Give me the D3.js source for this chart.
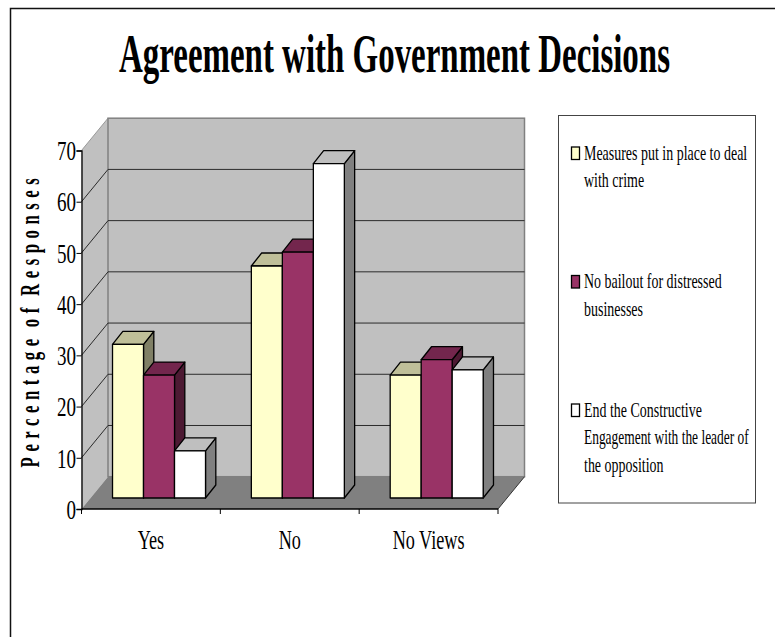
<!DOCTYPE html>
<html>
<head>
<meta charset="utf-8">
<script src="https://cdn.jsdelivr.net/npm/d3@7"></script>
<style>
html,body{margin:0;padding:0;background:#fff}
svg{display:block}
text{font-family:"Liberation Serif","Times New Roman",serif;fill:#000}
</style>
</head>
<body>
<script>
const categories = ["Yes", "No", "No Views"];
const crimeMeasures = [30, 45.3, 24];
const noBailout = [24, 48, 27];
const endEngagement = [9.2, 65.3, 25];
const tickValues = [0, 10, 20, 30, 40, 50, 60, 70];
const legendLines = [
  ["Measures put in place to deal", "with crime"],
  ["No bailout for distressed", "businesses"],
  ["End the Constructive", "Engagement with the leader of", "the opposition"]
];

const faces = [
  {front: "#ffffcc", top: "#bfbf99", side: "#808066"},
  {front: "#993366", top: "#73264d", side: "#4d1a33"},
  {front: "#ffffff", top: "#bfbfbf", side: "#808080"}
];
const seriesValues = [crimeMeasures, noBailout, endEngagement];

const svg = d3.select("body").append("svg").attr("width", 775).attr("height", 637);

// plot frame
const x = d3.scaleBand().domain(categories).range([81.5, 498]);
const y = d3.scaleLinear().domain([0, 70]).range([509, 150.5]);
const wall = {dx: 26.5, dy: -32.3};
const barDepth = {dx: 10.3, dy: -13};
const barLift = 11;
const barW = 31;

// outer border: only the top and left edges fall inside the page
svg.append("path").attr("d", "M775,8.5H10.5V637")
  .attr("fill", "none").attr("stroke", "#111").attr("stroke-width", 1.5);

// title
svg.append("text").attr("transform", "translate(394.5,72) scale(0.61,1)")
  .attr("text-anchor", "middle").attr("font-size", 54).attr("font-weight", "bold")
  .text("Agreement with Government Decisions");

// side wall, back wall, floor
const path = pts => "M" + pts.map(p => p.join(",")).join("L") + "Z";
const [x0, x1] = x.range();
const y0 = y(0), yTop = y(70);
svg.append("path").attr("d", path([[x0, y0], [x0 + wall.dx, y0 + wall.dy], [x0 + wall.dx, yTop + wall.dy], [x0, yTop]]))
  .attr("fill", "#c0c0c0");
svg.append("line").attr("x1", x0).attr("y1", yTop).attr("x2", x0 + wall.dx).attr("y2", yTop + wall.dy)
  .attr("stroke", "#999").attr("stroke-width", 1);
svg.append("rect").attr("x", x0 + wall.dx).attr("y", yTop + wall.dy).attr("width", x1 - x0).attr("height", y0 - yTop)
  .attr("fill", "#c0c0c0").attr("stroke", "#808080").attr("stroke-width", 1.5);
svg.append("path").attr("d", path([[x0, y0], [x0 + wall.dx, y0 + wall.dy], [x1 + wall.dx, y0 + wall.dy], [x1, y0]]))
  .attr("fill", "#808080");

// gridlines run along the side wall and across the back wall
tickValues.filter(t => t > 0 && t < 70).forEach(t => {
  svg.append("path")
    .attr("d", `M${x0},${y(t)}L${x0 + wall.dx},${y(t) + wall.dy}L${x1 + wall.dx},${y(t) + wall.dy}`)
    .attr("fill", "none").attr("stroke", "#2b2b2b").attr("stroke-width", 1);
});

// value axis
const yG = svg.append("g").attr("transform", `translate(${x0},0)`)
  .call(d3.axisLeft(y).tickValues(tickValues).tickSize(5));
yG.select(".domain").attr("stroke", "#000").attr("stroke-width", 1.3);
yG.selectAll("text").attr("font-size", 28).attr("dy", "0.33em").attr("x", 0)
  .attr("transform", "translate(-5.5,0) scale(0.68,1)");

// category axis
const xG = svg.append("g").attr("transform", `translate(0,${y0})`)
  .call(d3.axisBottom(x).tickSize(0).tickPadding(0));
xG.select(".domain").remove();
xG.selectAll(".tick text").attr("font-size", 28).attr("text-anchor", "middle")
  .attr("x", 0).attr("y", 40).attr("dy", 0).attr("transform", "scale(0.65,1)");
svg.append("line").attr("x1", x0).attr("x2", x1).attr("y1", y0).attr("y2", y0).attr("stroke", "#000").attr("stroke-width", 1.5);
[...categories.map(c => x(c)), x1].forEach(px => {
  svg.append("line").attr("x1", px).attr("x2", px).attr("y1", y0).attr("y2", y0 + 5).attr("stroke", "#000");
});
svg.append("line").attr("x1", x1).attr("y1", y0).attr("x2", x1 + wall.dx).attr("y2", y0 + wall.dy).attr("stroke", "#333");

// bars, drawn left to right so each front covers its neighbour's side
const baseY = y0 - barLift;
const yBar = v => y(v) - barLift;
categories.forEach((c, ci) => {
  const centre = x(c) + x.bandwidth() / 2 + 8.1;
  seriesValues.forEach((vals, si) => {
    const left = centre + (si - 1.5) * barW;
    const right = left + barW;
    const t = yBar(vals[ci]);
    const d = barDepth;
    const g = svg.append("g").attr("stroke", "#000").attr("stroke-width", 1.3).attr("stroke-linejoin", "round");
    g.append("path").attr("d", path([[right, t], [right + d.dx, t + d.dy], [right + d.dx, baseY + d.dy], [right, baseY]])).attr("fill", faces[si].side);
    g.append("path").attr("d", path([[left, t], [left + d.dx, t + d.dy], [right + d.dx, t + d.dy], [right, t]])).attr("fill", faces[si].top);
    g.append("rect").attr("x", left).attr("y", t).attr("width", barW).attr("height", baseY - t).attr("fill", faces[si].front);
  });
});

// value axis title
svg.append("text").attr("transform", "translate(39,320) rotate(-90) scale(0.6,1)")
  .attr("text-anchor", "middle").attr("font-size", 28).attr("font-weight", "bold")
  .attr("letter-spacing", 9.2).attr("word-spacing", -6)
  .text("Percentage of Responses");

// legend; the longest line runs a little tighter to stay inside the box
svg.append("rect").attr("x", 558.5).attr("y", 115.5).attr("width", 197).attr("height", 387.5)
  .attr("fill", "#fff").attr("stroke", "#444").attr("stroke-width", 1);
const legendBaselines = [159.5, 288, 416.5];
legendLines.forEach((lines, i) => {
  svg.append("rect").attr("x", 571.5).attr("y", legendBaselines[i] - 12.5).attr("width", 8).attr("height", 12.5)
    .attr("fill", faces[i].front).attr("stroke", "#000").attr("stroke-width", 1.3);
  lines.forEach((line, j) => {
    const squeeze = line.length > 28 && i === 2 ? 0.64 : 0.665;
    svg.append("text").attr("transform", `translate(584,${legendBaselines[i] + j * 27.6}) scale(${squeeze},1)`)
      .attr("font-size", 21).text(line);
  });
});
</script>
</body>
</html>
